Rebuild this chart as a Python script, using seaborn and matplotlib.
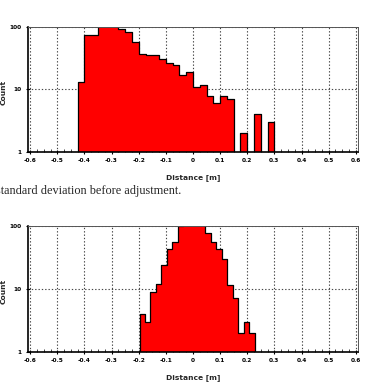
import pandas as pd
import matplotlib
matplotlib.use("Agg")
import matplotlib.pyplot as plt
from matplotlib.ticker import FixedLocator, FixedFormatter, MultipleLocator, NullLocator
import seaborn as sns

# histogram before adjustment (0.025 m bins)
before_left = -0.425
before_width = 0.025
before_counts = [13, 74, 74, 102, 106, 104, 92, 82, 58, 37, 36, 35, 31, 27, 25,
                 17, 19, 11, 12, 8, 6, 8, 7, 0, 2, 0, 4, 0, 3]

# histogram after adjustment
after_left = -0.197
after_width = 0.0202
after_counts = [4, 3, 9, 12, 24, 43, 55, 98, 115, 130, 125, 108, 76, 56, 42,
                30, 11.5, 7, 2, 3, 2]

x_ticks = [-0.6, -0.5, -0.4, -0.3, -0.2, -0.1, 0, 0.1, 0.2, 0.3, 0.4, 0.5, 0.6]
x_labels = ["-0.6", "-0.5", "-0.4", "-0.3", "-0.2", "-0.1", "0",
            "0.1", "0.2", "0.3", "0.4", "0.5", "0.6"]
y_ticks = [1, 10, 100]
y_labels = ["1", "10", "100"]

caption = "standard deviation before adjustment."

sns.set_style("white")
plt.rcParams["font.family"] = ["DejaVu Sans"]

fig = plt.figure(figsize=(3.66, 3.86), dpi=100)
ax_top = fig.add_axes([0.0765, 0.6062, 0.9016, 0.324])
ax_bot = fig.add_axes([0.0765, 0.0889, 0.9016, 0.3264])


def draw(ax, left, width, counts):
    n = len(counts)
    edges = [left + width * i for i in range(n + 1)]
    df = pd.DataFrame({
        "distance": [edges[i] + width / 2 for i in range(n)],
        "count": counts
    })
    sns.histplot(
        data=df,
        x="distance",
        weights="count",
        bins=edges,
        element="step",
        fill=True,
        color="#ff0000",
        edgecolor="black",
        linewidth=0.9,
        alpha=1,
        ax=ax
    )
    ax.set_yscale("log")
    ax.set_ylim(1, 100)
    ax.set_xlim(-0.608, 0.608)

    ax.xaxis.set_major_locator(FixedLocator(x_ticks))
    ax.xaxis.set_major_formatter(FixedFormatter(x_labels))
    ax.xaxis.set_minor_locator(MultipleLocator(0.025))
    ax.yaxis.set_major_locator(FixedLocator(y_ticks))
    ax.yaxis.set_major_formatter(FixedFormatter(y_labels))
    ax.yaxis.set_minor_locator(NullLocator())

    ax.tick_params(axis="both", which="major", direction="inout", length=3,
                   width=0.8, labelsize=4.2, pad=3, colors="black")
    ax.tick_params(axis="x", which="minor", direction="in", length=2,
                   width=0.6, bottom=True)
    ax.tick_params(axis="x", which="major", bottom=True)
    ax.tick_params(axis="y", which="major", left=True)
    for lab in ax.get_xticklabels() + ax.get_yticklabels():
        lab.set_fontweight("bold")

    ax.grid(True, which="major", color="#444444", linewidth=0.8,
            linestyle=(0, (1.2, 1.8)))
    ax.set_axisbelow(True)
    for side in ["left", "bottom"]:
        ax.spines[side].set_color("black")
        ax.spines[side].set_linewidth(1.2)
    for side in ["right", "top"]:
        ax.spines[side].set_visible(True)
        ax.spines[side].set_color("#555555")
        ax.spines[side].set_linewidth(0.7)

    ax.set_xlabel("Distance [m]", fontsize=5.4, fontweight="bold", va="center")
    ax.set_ylabel("Count", fontsize=5.4, fontweight="bold", va="center")
    ax.xaxis.set_label_coords(0.5, -0.205)
    ax.yaxis.set_label_coords(-0.073, 0.48)


draw(ax_top, before_left, before_width, before_counts)
draw(ax_bot, after_left, after_width, after_counts)

fig.text(-0.011, 1 - 190.7 / 386, caption, fontsize=8.8, family="Liberation Serif",
         va="center", ha="left")

fig.savefig("out.png", dpi=100)
plt.close()
